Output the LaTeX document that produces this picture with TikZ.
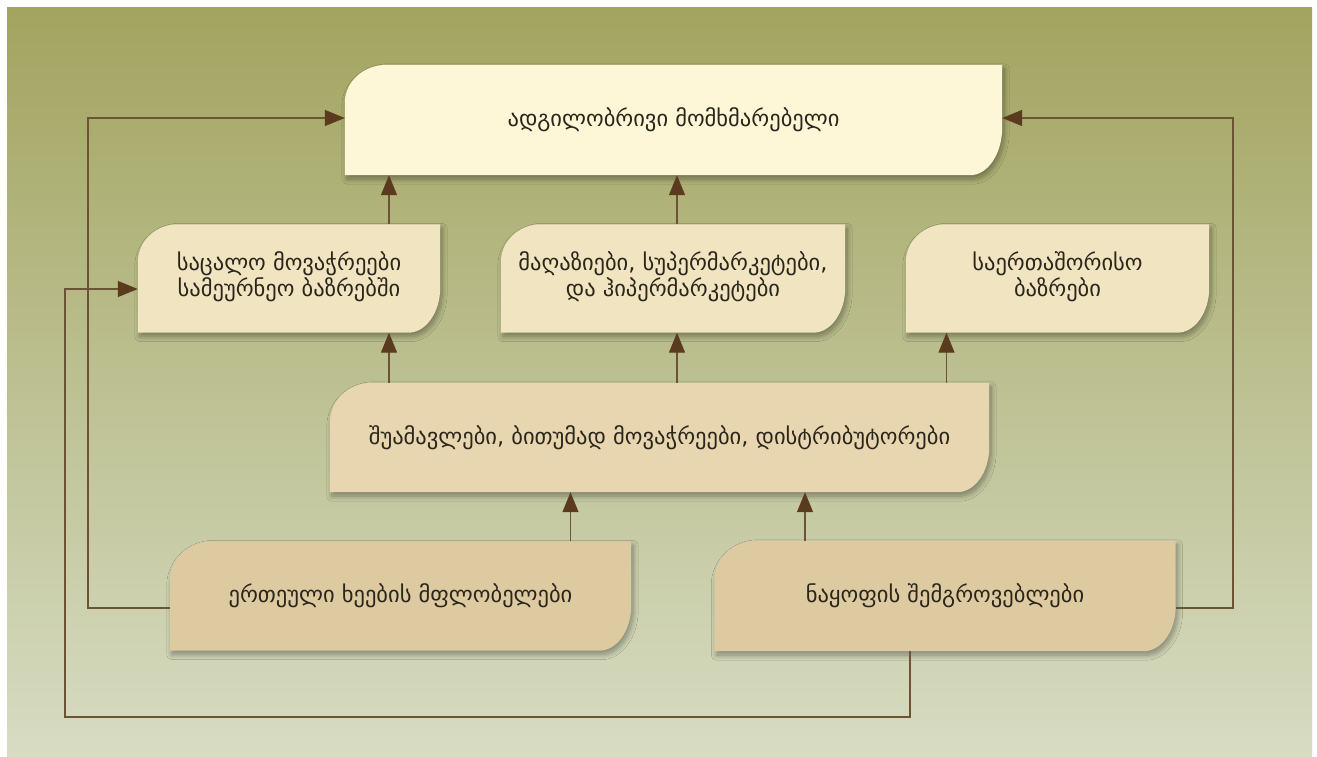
\documentclass[tikz,border=0pt]{standalone}
\usepackage{fontspec}
\setmainfont{DejaVu Sans}
\usetikzlibrary{arrows.meta,shadows.blur,backgrounds}
\definecolor{bgtop}{HTML}{A2A45F}
\definecolor{bgmid}{HTML}{BCC393}
\definecolor{bgbot}{HTML}{D7DCC3}
\definecolor{boxA}{HTML}{FDF7D7}
\definecolor{boxB}{HTML}{F0E4C1}
\definecolor{boxC}{HTML}{E7D6AF}
\definecolor{boxD}{HTML}{DDCAA1}
\definecolor{linec}{HTML}{6A5434}
\definecolor{tipc}{HTML}{5B3B1D}
\definecolor{txtc}{HTML}{2B261C}
\tikzset{
  box/.style={inner sep=0pt, align=center, text=txtc, font=\fontsize{22.5}{27}\selectfont},
  arr/.style={draw=linec, line width=1.3pt, -{Triangle[length=20pt,width=16pt,color=tipc]}},
  boxshadow/.style={blur shadow={shadow xshift=2pt, shadow yshift=-4pt, shadow blur steps=10, shadow blur radius=5pt, shadow opacity=35}}
}
\newcommand\leafshape[6]{%
  \fill[#2, boxshadow] (#1.south west) -- ([yshift=-#4pt]#1.north west)
    arc[start angle=180, end angle=90, x radius=#3pt, y radius=#4pt]
    -- (#1.north east) -- ([yshift=#6pt]#1.south east)
    arc[start angle=0, end angle=-90, x radius=#5pt, y radius=#6pt] -- cycle;}
\begin{document}
\begin{tikzpicture}[x=1pt,y=-1pt]
\useasboundingbox (0,0) rectangle (1317,756);
\begin{scope}[on background layer]
\fill[white] (0,0) rectangle (1317,756);
\fill[top color=bgtop, middle color=bgmid, bottom color=bgbot] (7,7) rectangle (1312,756);
\end{scope}

\node[box, minimum width=657pt, minimum height=110pt] (top) at (673.5,120) {ადგილობრივი მომხმარებელი};
\node[box, minimum width=302pt, minimum height=108pt] (L2) at (289,278.5) {\raisebox{-3pt}{\begin{tabular}{@{}c@{}}საცალო მოვაჭრეები\\[-1pt]სამეურნეო ბაზრებში\end{tabular}}};
\node[box, minimum width=344pt, minimum height=108pt] (M2) at (673,278.5) {\raisebox{-3pt}{\begin{tabular}{@{}c@{}}მაღაზიები, სუპერმარკეტები,\\[-1pt]და ჰიპერმარკეტები\end{tabular}}};
\node[box, minimum width=303pt, minimum height=108pt] (R2) at (1057.5,278.5) {\raisebox{-3pt}{\begin{tabular}{@{}c@{}}საერთაშორისო\\[-1pt]ბაზრები\end{tabular}}};
\node[box, minimum width=659pt, minimum height=109pt] (mid) at (659.5,437.5) {შუამავლები, ბითუმად მოვაჭრეები, დისტრიბუტორები};
\node[box, minimum width=461pt, minimum height=109pt] (BL) at (400.5,596) {ერთეული ხეების მფლობელები};
\node[box, minimum width=461pt, minimum height=110pt] (BR) at (945,596) {ნაყოფის შემგროვებლები};

\begin{scope}[on background layer]
\leafshape{top}{boxA}{42}{38}{32}{48}
\leafshape{L2}{boxB}{40}{38}{32}{45}
\leafshape{M2}{boxB}{40}{38}{32}{45}
\leafshape{R2}{boxB}{40}{38}{32}{45}
\leafshape{mid}{boxC}{42}{40}{32}{45}
\leafshape{BL}{boxD}{42}{40}{32}{45}
\leafshape{BR}{boxD}{42}{40}{32}{45}
\end{scope}

\coordinate (c1) at (88,118);
\coordinate (c2) at (1233,118);
\coordinate (c3) at (65,717);

\draw[arr] ([xshift=100pt]L2.north) -- ([xshift=100pt]L2.north |- top.south);
\draw[arr] ([xshift=4pt]M2.north) -- ([xshift=4pt]M2.north |- top.south);
\draw[arr] ([xshift=100pt]L2.north |- mid.north) -- ([xshift=100pt]L2.south);
\draw[arr] ([xshift=4pt]M2.north |- mid.north) -- ([xshift=4pt]M2.south);
\draw[arr] ([xshift=-111pt]R2.north |- mid.north) -- ([xshift=-111pt]R2.south);
\draw[arr] ([xshift=170pt]BL.north) -- ([xshift=170pt]BL.north |- mid.south);
\draw[arr] ([xshift=-140pt]BR.north) -- ([xshift=-140pt]BR.north |- mid.south);

\draw[arr] ([yshift=-12pt]BL.west) -| (c1) -- ([yshift=2pt]top.west);
\draw[arr] ([yshift=-12pt]BR.east) -| (c2) -- ([yshift=2pt]top.east);
\draw[arr] ([xshift=-35pt]BR.south) |- (c3) |- ([yshift=-10.5pt]L2.west);
\end{tikzpicture}
\end{document}
